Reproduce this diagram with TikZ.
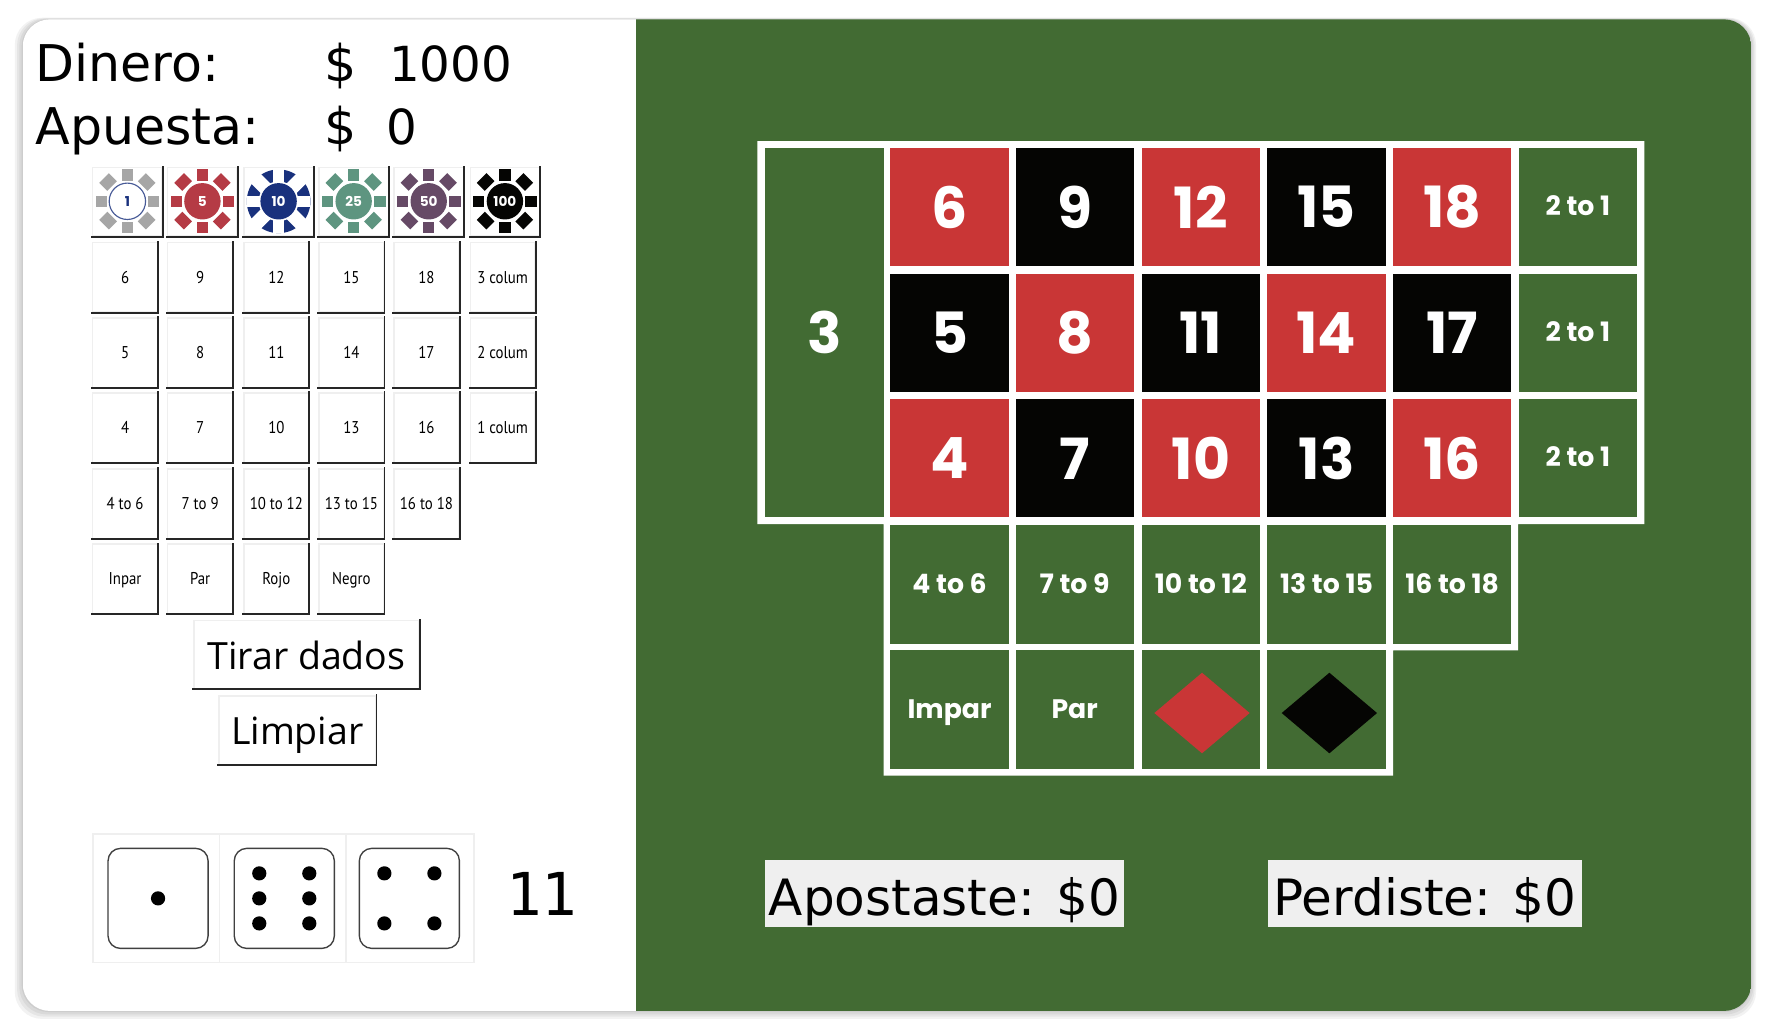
\documentclass[tikz,border=0pt]{standalone}
\usepackage{fontspec}
\setmainfont{DejaVu Sans}
\newfontfamily\btnfont{Open Sans}
\newfontfamily\smallfont[FakeStretch=0.87]{PT Sans}
\newfontfamily\feltfont{Poppins}
\newfontfamily\sumfont{DejaVu Sans Mono}
\definecolor{felt}{HTML}{426B33}
\definecolor{cellred}{HTML}{C93636}
\definecolor{cellblack}{HTML}{050503}
\definecolor{paleedge}{HTML}{EFEFEF}
\definecolor{chipgray}{HTML}{A6A6A6}
\definecolor{chipred}{HTML}{B53B45}
\definecolor{chipblue}{HTML}{19317D}
\definecolor{chipgreen}{HTML}{5E9580}
\definecolor{chippurple}{HTML}{664A66}
\tikzset{
    btnbase/.style={rectangle, draw=paleedge, line width=1.2pt, fill=white, inner sep=0pt,
        append after command={
            (\tikzlastnode.north east) edge[btnedge] (\tikzlastnode.south east)
            (\tikzlastnode.south west) edge[btnedge] (\tikzlastnode.south east)}},
    btnedge/.style={draw=black!85, line width=1.7pt, line cap=rect},
    chipbtn/.style={btnbase, minimum width=61pt, minimum height=60pt},
    smallbtn/.style={btnbase, minimum width=57pt, minimum height=61pt, text height=11pt, text depth=1pt,
        font=\smallfont\fontsize{15}{15}\selectfont},
    bigbtn/.style={btnbase, text height=33pt, text depth=7pt, font=\btnfont\fontsize{33}{33}\selectfont},
    cell/.style={rectangle, inner sep=0pt, minimum width=104pt, minimum height=104pt, text=white},
    numcell/.style={cell, font=\feltfont\bfseries\fontsize{50}{50}\selectfont},
    redcell/.style={numcell, fill=cellred},
    blackcell/.style={numcell, fill=cellblack},
    betcell/.style={cell, fill=felt, text height=16pt, text depth=1pt, font=\feltfont\bfseries\fontsize{23.5}{23.5}\selectfont},
    chiplabel/.style={inner sep=0pt, text=white, font=\feltfont\bfseries\fontsize{12}{12}\selectfont},
    bigtext/.style={anchor=base west, inner sep=0pt, font=\fontsize{44.5}{44.5}\selectfont},
    bigvalue/.style={bigtext, font=\fontsize{42.5}{42.5}\selectfont},
    resultbox/.style={rectangle, fill=paleedge, inner sep=0pt, minimum height=59pt, text height=40pt, text depth=1pt,
        font=\fontsize{44}{44}\selectfont},
    dicecell/.style={rectangle, draw=paleedge, line width=1.5pt, minimum height=113pt, inner sep=0pt},
    diceface/.style={rectangle, draw=black!75, line width=1.2pt, rounded corners=11pt, fill=white,
        minimum width=88pt, minimum height=88pt, inner sep=0pt},
    pip/.style={circle, fill=black, minimum size=12.5pt, inner sep=0pt},
    diamondcell/.style={diamond, minimum width=84pt, minimum height=71pt, inner sep=0pt},
}
\newcommand{\chiprays}[4]{%
    \foreach \a in {0,90,180,270} {
        \fill[#3, shift={(#1,#2)}, rotate=\a] (#4,-5) rectangle (28,5);
    }
    \foreach \a in {45,135,225,315} {
        \fill[#3, shift={(#1,#2)}, rotate=\a] (#4+1,-6) rectangle (29,6);
    }
}
\usetikzlibrary{shapes.geometric}
\begin{document}
\begin{tikzpicture}[x=1pt, y=-1pt]
    \useasboundingbox (0,0) rectangle (1560,905);
    \fill[white] (0,0) rectangle (1560,905);

    % card shadow
    \foreach \g in {7,5,3,1} {
        \fill[black, opacity=0.05, rounded corners=24pt] (20-\g,17-0.2*\g) rectangle (1540+0.6*\g,889+\g);
    }
    \begin{scope}
        \clip[rounded corners=24pt] (20,17) rectangle (1540,889);
        \fill[white] (20,17) rectangle (559,889);
        \fill[felt] (559,17) rectangle (1540,889);
    \end{scope}

    % money
    \node at (31,72) [bigtext] (DineroText) {Dinero:};
    \node at (285,72) [bigtext] (DineroSign) {\$};
    \node at (342,72) [bigvalue] (DineroValue) {1000};
    \node at (31,127) [bigtext] (ApuestaText) {Apuesta:};
    \node at (285,127) [bigtext] (ApuestaSign) {\$};
    \node at (340,127) [bigvalue] (ApuestaValue) {0};

    % chips
    \node at (112,177.5) [chipbtn] (ChipBtnA) {};
    \node at (178,177.5) [chipbtn] (ChipBtnB) {};
    \node at (245,177.5) [chipbtn] (ChipBtnC) {};
    \node at (311,177.5) [chipbtn] (ChipBtnD) {};
    \node at (377,177.5) [chipbtn] (ChipBtnE) {};
    \node at (444,177.5) [chipbtn] (ChipBtnF) {};

    \chiprays{112}{177}{chipgray}{18}
    \fill[white, draw=chipblue!80, line width=1pt] (112,177) circle (16);
    \node at (112,177) [chiplabel, text=chipblue] (ChipOne) {1};

    \chiprays{178}{177}{chipred}{18}
    \fill[chipred] (178,177) circle (16);
    \node at (178,177) [chiplabel] (ChipFive) {5};

    \fill[chipblue] (245,177) circle (28);
    \chiprays{245}{177}{white}{0}
    \fill[white] (245,177) circle (17.5);
    \fill[chipblue] (245,177) circle (16);
    \node at (245,177) [chiplabel] (ChipTen) {10};

    \chiprays{311}{177}{chipgreen}{18}
    \fill[chipgreen] (311,177) circle (16);
    \node at (311,177) [chiplabel] (ChipTwentyFive) {25};

    \chiprays{377}{177}{chippurple}{18}
    \fill[chippurple] (377,177) circle (16);
    \node at (377,177) [chiplabel] (ChipFifty) {50};

    \chiprays{444}{177}{cellblack}{18}
    \fill[cellblack] (444,177) circle (16);
    \node at (444,177) [chiplabel] (ChipHundred) {100};

    % bet buttons
    \node at (110,244) [smallbtn] (BtnSix) {6};
    \node at (176,244) [smallbtn] (BtnNine) {9};
    \node at (243,244) [smallbtn] (BtnTwelve) {12};
    \node at (309,244) [smallbtn] (BtnFifteen) {15};
    \node at (375,244) [smallbtn] (BtnEighteen) {18};
    \node at (442,244) [smallbtn] (BtnColThree) {3 colum};

    \node at (110,310) [smallbtn] (BtnFive) {5};
    \node at (176,310) [smallbtn] (BtnEight) {8};
    \node at (243,310) [smallbtn] (BtnEleven) {11};
    \node at (309,310) [smallbtn] (BtnFourteen) {14};
    \node at (375,310) [smallbtn] (BtnSeventeen) {17};
    \node at (442,310) [smallbtn] (BtnColTwo) {2 colum};

    \node at (110,376) [smallbtn] (BtnFour) {4};
    \node at (176,376) [smallbtn] (BtnSeven) {7};
    \node at (243,376) [smallbtn] (BtnTen) {10};
    \node at (309,376) [smallbtn] (BtnThirteen) {13};
    \node at (375,376) [smallbtn] (BtnSixteen) {16};
    \node at (442,376) [smallbtn] (BtnColOne) {1 colum};

    \node at (110,443) [smallbtn] (BtnRowA) {4 to 6};
    \node at (176,443) [smallbtn] (BtnRowB) {7 to 9};
    \node at (243,443) [smallbtn] (BtnRowC) {10 to 12};
    \node at (309,443) [smallbtn] (BtnRowD) {13 to 15};
    \node at (375,443) [smallbtn] (BtnRowE) {16 to 18};

    \node at (110,509) [smallbtn] (BtnInpar) {Inpar};
    \node at (176,509) [smallbtn] (BtnPar) {Par};
    \node at (243,509) [smallbtn] (BtnRojo) {Rojo};
    \node at (309,509) [smallbtn] (BtnNegro) {Negro};

    \node at (269.5,575.5) [bigbtn, minimum width=198pt, minimum height=60pt] (BtnTirar) {Tirar dados};
    \node at (261.5,642) [bigbtn, minimum width=138pt, minimum height=60pt] (BtnLimpiar) {Limpiar};

    % dice
    \node at (137.5,790) [dicecell, minimum width=111pt] (DiceCellA) {};
    \node at (248.5,790) [dicecell, minimum width=111pt] (DiceCellB) {};
    \node at (360.5,790) [dicecell, minimum width=113pt] (DiceCellC) {};
    \node at (139,790) [diceface] (DieA) {};
    \node at (250,790) [diceface] (DieB) {};
    \node at (360,790) [diceface] (DieC) {};
    \node at (139,790) [pip] (PipA) {};
    \node at (228,768) [pip] (PipBa) {};
    \node at (272,768) [pip] (PipBb) {};
    \node at (228,790) [pip] (PipBc) {};
    \node at (272,790) [pip] (PipBd) {};
    \node at (228,812) [pip] (PipBe) {};
    \node at (272,812) [pip] (PipBf) {};
    \node at (338,768) [pip] (PipCa) {};
    \node at (382,768) [pip] (PipCb) {};
    \node at (338,812) [pip] (PipCc) {};
    \node at (382,812) [pip] (PipCd) {};
    \node at (445,805) [anchor=base west, inner sep=0pt, font=\sumfont\fontsize{52}{52}\selectfont] (DiceSum) {11};

    % table lines
    \fill[white] (666,124) -- (1446,124) -- (1446,461) -- (1335,461) -- (1335,572)
        -- (1225,572) -- (1225,682) -- (777,682) -- (777,461) -- (666,461) -- cycle;

    % table
    \node at (725,292.5) [numcell, fill=felt, minimum height=325pt] (CellThree) {3};

    \node at (835,182) [redcell] (CellSix) {6};
    \node at (945,182) [blackcell] (CellNine) {9};
    \node at (1056,182) [redcell] (CellTwelve) {12};
    \node at (1166.5,182) [blackcell] (CellFifteen) {15};
    \node at (1277,182) [redcell] (CellEighteen) {18};
    \node at (1387.5,182) [betcell] (CellColThree) {2 to 1};

    \node at (835,293) [blackcell] (CellFive) {5};
    \node at (945,293) [redcell] (CellEight) {8};
    \node at (1056,293) [blackcell] (CellEleven) {11};
    \node at (1166.5,293) [redcell] (CellFourteen) {14};
    \node at (1277,293) [blackcell] (CellSeventeen) {17};
    \node at (1387.5,293) [betcell] (CellColTwo) {2 to 1};

    \node at (835,403) [redcell] (CellFour) {4};
    \node at (945,403) [blackcell] (CellSeven) {7};
    \node at (1056,403) [redcell] (CellTen) {10};
    \node at (1166.5,403) [blackcell] (CellThirteen) {13};
    \node at (1277,403) [redcell] (CellSixteen) {16};
    \node at (1387.5,403) [betcell] (CellColOne) {2 to 1};

    \node at (835,514) [betcell] (CellRowA) {4 to 6};
    \node at (945,514) [betcell] (CellRowB) {7 to 9};
    \node at (1056,514) [betcell] (CellRowC) {10 to 12};
    \node at (1166.5,514) [betcell] (CellRowD) {13 to 15};
    \node at (1277,514) [betcell] (CellRowE) {16 to 18};

    \node at (835,624) [betcell] (CellImpar) {Impar};
    \node at (945,624) [betcell] (CellPar) {Par};
    \node at (1056,624) [betcell] (CellRojo) {};
    \node at (1166.5,624) [betcell] (CellNegro) {};
    \node at (1057,627) [diamondcell, fill=cellred] (DiamondRojo) {};
    \node at (1169,627) [diamondcell, fill=cellblack] (DiamondNegro) {};

    % results
    \node at (830.5,785.5) [resultbox, minimum width=315pt] (ResultBet) {Apostaste: \$0};
    \node at (1253,785.5) [resultbox, minimum width=276pt] (ResultLost) {Perdiste: \$0};
\end{tikzpicture}
\end{document}
